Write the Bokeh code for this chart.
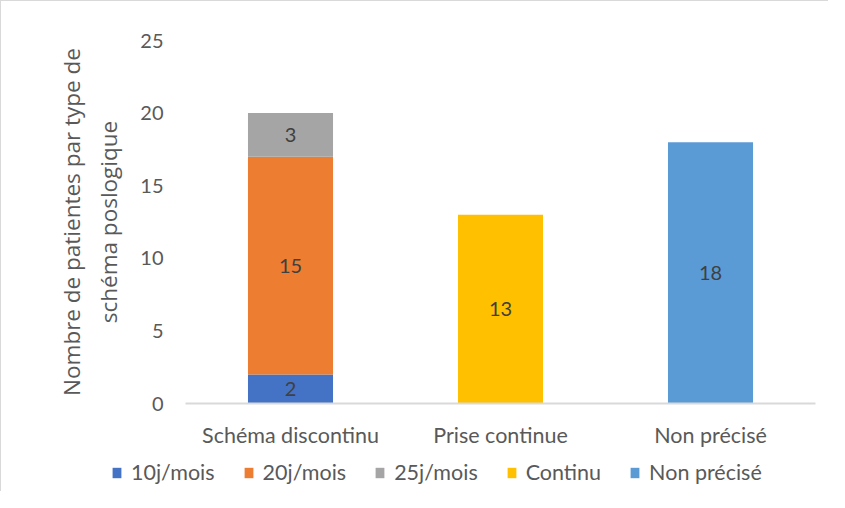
from bokeh.plotting import figure
from bokeh.models import (Range1d, FixedTicker, Legend, LegendItem, ColumnDataSource)
from bokeh.core.properties import value
from bokeh.embed import file_html
from bokeh.resources import INLINE

categories = ["Schéma discontinu", "Prise continue", "Non précisé"]
series = ["10j/mois", "20j/mois", "25j/mois", "Continu", "Non précisé"]
s_10j = [2, 0, 0]
s_20j = [15, 0, 0]
s_25j = [3, 0, 0]
s_continu = [0, 13, 0]
s_non_precise = [0, 0, 18]
y_ticks = [0, 5, 10, 15, 20, 25]
colors = ["#4472C4", "#ED7D31", "#A5A5A5", "#FFC000", "#5B9BD5"]

values = [s_10j, s_20j, s_25j, s_continu, s_non_precise]
xpos = list(range(len(categories)))
data = {"x": xpos}
for name, vals in zip(series, values):
    data[name] = vals
src = ColumnDataSource(data)

TXT = "#595959"
FONT = "Lato"

# canvas geometry (pixels)
W, H = 828, 491
plot_left_px, unit_x = 184, 210.0      # left edge of the category area, px per category
plot_top_px, unit_y = 39, 363.0 / 25   # top of value 25, px per unit
y_max = 25
x_start = -0.5 - plot_left_px / unit_x
x_end = x_start + W / unit_x
y_end = y_max + plot_top_px / unit_y
y_start = y_end - H / unit_y

p = figure(x_range=Range1d(x_start, x_end), y_range=Range1d(y_start, y_end),
           width=W, height=H, min_border=0,
           output_backend="svg", toolbar_location=None,
           outline_line_color=None)

rends = p.vbar_stack(series, x="x", width=0.405, source=src,
                     color=colors, line_color=None)

# data labels
lx, ly, lt = [], [], []
for i in xpos:
    base = 0
    for vals in values:
        v = vals[i]
        if v:
            lx.append(i)
            ly.append(base + v / 2)
            lt.append(str(v))
        base += v
p.text(x=lx, y=ly, text=lt, text_align="center", text_baseline="middle",
       text_color="#404040", text_font=value(FONT), text_font_size="20px")

p.xgrid.visible = False
p.ygrid.visible = False

xa = p.xaxis[0]
xa.fixed_location = 0
xa.bounds = (-0.5, len(categories) - 0.5)
xa.ticker = FixedTicker(ticks=xpos)
xa.major_label_overrides = {i: c for i, c in zip(xpos, categories)}
xa.axis_line_color = "#D9D9D9"
xa.axis_line_width = 2
xa.major_tick_line_color = None
xa.minor_tick_line_color = None
xa.major_label_standoff = 12
xa.major_label_text_font = FONT
xa.major_label_text_font_size = "21.5px"
xa.major_label_text_color = TXT

ya = p.yaxis[0]
ya.fixed_location = -0.5
ya.bounds = (0, y_max)
ya.ticker = FixedTicker(ticks=y_ticks)
ya.axis_line_color = None
ya.major_tick_line_color = None
ya.minor_tick_line_color = None
ya.major_label_standoff = 16
ya.major_label_text_font = FONT
ya.major_label_text_font_size = "20px"
ya.major_label_text_color = TXT
ya.axis_label = "Nombre de patientes par type de\nschéma poslogique"
ya.axis_label_text_font = "Open Sans"
ya.axis_label_text_font_size = "22.5px"
ya.axis_label_text_font_style = "normal"
ya.axis_label_text_color = TXT
ya.axis_label_standoff = 13

legend = Legend(items=[LegendItem(label=s, renderers=[r]) for s, r in zip(series, rends)],
                orientation="horizontal", location=(110, 7),
                glyph_width=11, glyph_height=13, label_standoff=9, spacing=28,
                padding=0, margin=0, border_line_color=None,
                background_fill_alpha=0,
                label_text_font=FONT, label_text_font_size="21.5px",
                label_text_color=TXT)
p.add_layout(legend, "center")

p.styles = {"border-left": "1px solid #D9D9D9", "border-top": "1px solid #D9D9D9"}

open("out.html", "w").write(file_html(p, INLINE))
